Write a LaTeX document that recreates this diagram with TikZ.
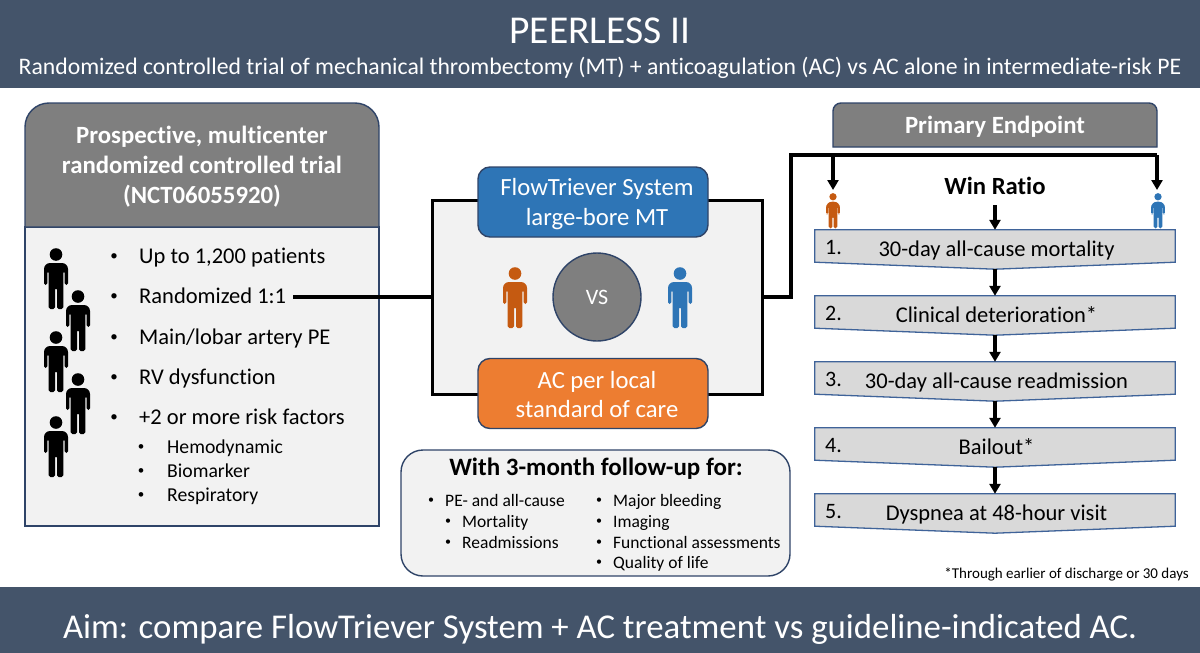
\documentclass[tikz,border=0pt]{standalone}
\usepackage{fontspec}
\setmainfont{Carlito}[Ligatures=NoCommon]
\usetikzlibrary{calc,arrows.meta,positioning}

\definecolor{banner}{HTML}{44546A}
\definecolor{edgeblue}{HTML}{2F4468}
\definecolor{headgray}{HTML}{7F7F7F}
\definecolor{panelgray}{HTML}{F2F2F2}
\definecolor{stepgray}{HTML}{D9D9D9}
\definecolor{stepedge}{HTML}{3F6399}
\definecolor{armblue}{HTML}{2E75B6}
\definecolor{armorange}{HTML}{ED7D31}
\definecolor{manorange}{HTML}{C55A11}

\newcommand{\fs}[1]{\fontsize{#1}{#1}\selectfont}

\tikzset{
  person/.pic={
    \fill[#1] (0,6.5) circle (6.3);
    \fill[#1] (-12,30) [rounded corners=6] -- (-12,15) -- (12,15) [rounded corners=1.7] -- (12,37) -- (8.6,37) -- (8.6,23)
      -- (7.4,23) -- (7.4,61) -- (1,61) -- (1,40) -- (-1,40) -- (-1,61) -- (-7.4,61) -- (-7.4,23)
      -- (-8.6,23) -- (-8.6,37) -- (-12,37) -- cycle;
  }
}

\begin{document}
\begin{tikzpicture}[
  x=1pt,
  y=-1pt,
  inner sep=0pt,
  bandtext/.style={text=white},
  boxline/.style={draw=edgeblue,line width=1.4pt},
  headtext/.style={text=white,font=\bfseries\fontsize{24.8}{30}\selectfont,align=center},
  armbox/.style={boxline,rounded corners=12pt,minimum width=230pt,minimum height=70pt,
    text=white,align=center,font=\fontsize{24.7}{29.5}\selectfont},
  mark1/.style={anchor=base,font=\fs{15},yshift=3pt},
  item1/.style={anchor=base west,font=\fs{22.5}},
  mark2/.style={anchor=base,font=\fs{13},yshift=2.5pt},
  item2/.style={anchor=base west,font=\fs{19.7}},
  mark3/.style={anchor=base,font=\fs{12},yshift=2.5pt},
  item3/.style={anchor=base west,font=\fs{17.5}},
  link/.style={line width=3.6pt},
  drop/.style={line width=3.2pt,-{Triangle[length=10pt,width=11pt]}},
  stepbox/.style={minimum width=360pt,minimum height=32pt},
  stepfill/.style={fill=stepgray,draw=stepedge,line width=1.3pt}
]
\useasboundingbox (0,0) rectangle (1200,653);

% banners
\fill[banner] (0,0) rectangle (1200,88);
\fill[banner] (0,587) rectangle (1200,653);
\node[bandtext,font=\fs{39.5}] (title) at (600,31) {PEERLESS II};
\node[bandtext,font=\fs{23.7}] (subtitle) at (600,68)
  {Randomized controlled trial of mechanical thrombectomy (MT) + anticoagulation (AC) vs AC alone in intermediate-risk PE};
\node[bandtext,font=\fs{34.8}] (aim) at (600,629)
  {Aim: compare FlowTriever System + AC treatment vs guideline-indicated AC.};

% trial panel
\fill[panelgray] (25,227) rectangle (379,526);
\draw[boxline] (25,227) rectangle (379,526);
\draw[boxline,fill=headgray] (25,227) [rounded corners=24pt] -- (25,103) -- (379,103) [sharp corners] -- (379,227) -- cycle;
\node[headtext] (trialhead) at (202,167) {Prospective, multicenter\\randomized controlled trial\\(NCT06055920)};

\foreach \Texto/\Base [count=\Ti from 1] in {{Up to 1,200 patients}/263,{Randomized 1:1}/303,{Main/lobar artery PE}/344,{RV dysfunction}/384,{+2 or more risk factors}/424}{
  \node[mark1] (dot\Ti) at (114,\Base) {•};
  \node[item1] (item\Ti) at (139,\Base) {\Texto};
}
\foreach \Texto/\Base [count=\Ti from 1] in {Hemodynamic/453,Biomarker/477,Respiratory/501}{
  \node[mark2] (subdot\Ti) at (141,\Base) {•};
  \node[item2] (subitem\Ti) at (167,\Base) {\Texto};
}
\foreach \X/\Y in {56/248,78/290,56/331,78/373,56/416}
  \pic at (\X,\Y) {person=black};

% treatment arms
\node[draw=black,line width=3pt,fill=panelgray,minimum width=330pt,minimum height=194pt] (arms) at (597,297) {};
\node[armbox,fill=armblue] (armmt) at (593,202) {\rule{0pt}{21pt}\hspace*{8pt}FlowTriever System\\\hspace*{8pt}large-bore MT};
\node[armbox,fill=armorange] (armac) at (593,393.5) {\rule{0pt}{19pt}\hspace*{8pt}AC per local\\\hspace*{8pt}standard of care};
\node[circle,boxline,fill=headgray,minimum size=88pt,text=white,font=\fs{22}] (vs) at (597,297) {VS};
\pic at (515,267) {person=manorange};
\pic at (680,267) {person=armblue};

% follow-up
\node[boxline,fill=panelgray,rounded corners=22pt,minimum width=389pt,minimum height=126pt] (follow) at (595.5,513) {};
\node[font=\bfseries\fs{25},anchor=base] (followhead) at (596,475) {With 3-month follow-up for:};
\foreach \Texto/\Base/\Xd [count=\Ti from 1] in {{PE- and all-cause}/506/431,Mortality/527/448,Readmissions/548/448}{
  \node[mark3] (fdot\Ti) at (\Xd,\Base) {•};
  \node[item3] (fitem\Ti) at (\Xd+14,\Base) {\Texto};
}
\foreach \Texto/\Base [count=\Ti from 1] in {{Major bleeding}/506,Imaging/527,{Functional assessments}/548,{Quality of life}/568}{
  \node[mark3] (gdot\Ti) at (599,\Base) {•};
  \node[item3] (gitem\Ti) at (613,\Base) {\Texto};
}

% endpoints
\draw[boxline,fill=headgray] (833,147) [rounded corners=8pt] -- (833,103) -- (1157,103) [sharp corners] -- (1157,147) -- cycle;
\node[text=white,font=\bfseries\fs{24.8}] (endhead) at (995,127) {Primary Endpoint};
\node[font=\bfseries\fs{24.7}] (win) at (995,186) {Win Ratio};
\coordinate (split) at (791,155);
\coordinate (splitend) at (1157,155);
\coordinate (orangeman) at (833,190);
\coordinate (blueman) at (1157,190);
\pic[scale=0.58] at (833,193) {person=manorange};
\pic[scale=0.58] at (1158,193) {person=armblue};

\foreach \Texto [count=\Ti from 1] in {30-day all-cause mortality,Clinical deterioration*,30-day all-cause readmission,Bailout*,Dyspnea at 48-hour visit}{
  \node[stepbox] (ep\Ti) at (995,{246+66*(\Ti-1)}) {};
  \coordinate (tip\Ti) at ($(ep\Ti.south)+(0,7)$);
  \draw[stepfill] (ep\Ti.north west) -- (ep\Ti.north east) -- (ep\Ti.south east) -- (tip\Ti) -- (ep\Ti.south west) -- cycle;
  \node[font=\fs{22.5},anchor=base] (eptext\Ti) at (996.5,{256+66*(\Ti-1)}) {\Texto};
  \node[font=\fs{22},anchor=base west] (epnum\Ti) at (825,{254+66*(\Ti-1)}) {\Ti.};
}

\node[font=\fs{15},anchor=base east] (note) at (1189,578) {*Through earlier of discharge or 30 days};

% connectors
\draw[link] ([xshift=7pt]item2.east |- arms.west) -- (arms.west);
\draw[link] (arms.east) -| (split) -- (splitend);
\draw[drop] (orangeman |- split) -- (orangeman);
\draw[drop] (blueman |- split) -- (blueman);
\draw[drop] (win.south |- 0,205) -- (ep1.north);
\draw[drop] (tip1) -- (ep2.north);
\draw[drop] (tip2) -- (ep3.north);
\draw[drop] (tip3) -- (ep4.north);
\draw[drop] (tip4) -- (ep5.north);

\end{tikzpicture}
\end{document}
